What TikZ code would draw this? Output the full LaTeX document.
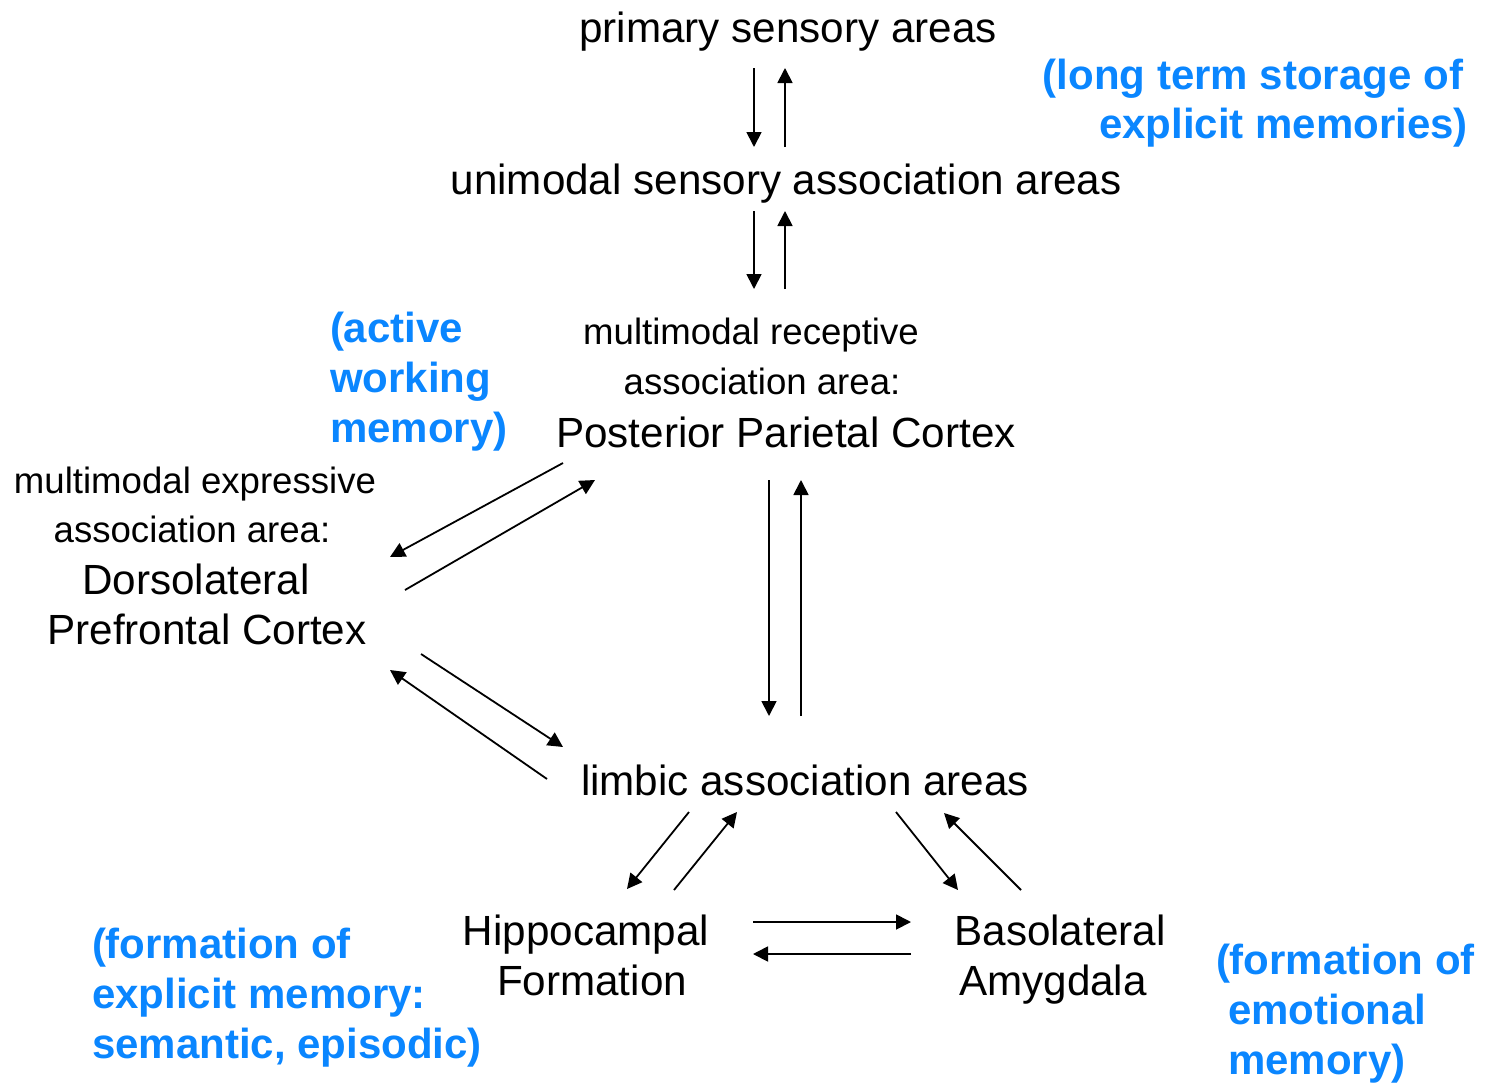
\documentclass[tikz,border=0pt]{standalone}
\usepackage{fontspec}
\setmainfont{Liberation Sans}
\usetikzlibrary{arrows.meta}
\definecolor{ink}{HTML}{000000}
\definecolor{memblue}{HTML}{0A86FF}

\begin{document}
\begin{tikzpicture}[x=0.5pt,y=-0.5pt,
  every node/.style={inner sep=0pt,outer sep=0pt,anchor=base,color=ink},
  big/.style={font=\fontsize{21.1}{25}\selectfont},
  small/.style={font=\fontsize{18.3}{25}\selectfont},
  memo/.style={font=\fontsize{21}{25}\selectfont\bfseries,color=memblue},
  arr/.style={-{Triangle[length=7.5pt,width=7.5pt]},line width=0.9pt,color=ink}]
\fill[white] (0,0) rectangle (1489,1082);
\useasboundingbox (0,0) rectangle (1489,1082);

% areas
\node[big] (prim) at (788,42) {primary sensory areas};
\node[big] (uni) at (786,194) {unimodal sensory association areas};
\node[small] (recA) at (751,344) {multimodal receptive};
\node[small] (recB) at (762,394) {association area:};
\node[big] (ppc) at (786,447) {Posterior Parietal Cortex};
\node[small] (expA) at (195,493) {multimodal expressive};
\node[small] (expB) at (192,542) {association area:};
\node[big] (dlA) at (196,594) {Dorsolateral};
\node[big] (dlB) at (207,644) {Prefrontal Cortex};
\node[big] (limb) at (805,795) {limbic association areas};
\node[big] (hipA) at (586,945) {Hippocampal};
\node[big] (hipB) at (592,995) {Formation};
\node[big] (basA) at (1060,945) {Basolateral};
\node[big] (basB) at (1053,995) {Amygdala};

% memory notes
\node[memo,anchor=base east] (storeA) at (1463,89) {(long term storage of};
\node[memo,anchor=base east] (storeB) at (1468,138) {explicit memories)};
\foreach \i/\txt in {0/(active,1/working,2/memory)}
  \node[memo,anchor=base west] (act\i) at (330,342+\i*50) {\txt};
\foreach \i/\txt in {0/(formation of,1/explicit memory:,2/{semantic, episodic)}}
  \node[memo,anchor=base west] (expl\i) at (92,958+\i*50) {\txt};
\node[memo,anchor=base west] (emo0) at (1216,974) {(formation of};
\node[memo,anchor=base west] (emo1) at (1228,1024) {emotional};
\node[memo,anchor=base west] (emo2) at (1228,1074) {memory)};

% connections
\draw[arr] ([shift={(-34,26)}]prim.base) -- ([shift={(-32,-47)}]uni.base);
\draw[arr] ([shift={(-1,-47)}]uni.base) -- ([shift={(-3,26)}]prim.base);
\draw[arr] ([shift={(-32,17)}]uni.base) -- ([shift={(3,-55)}]recA.base);
\draw[arr] ([shift={(34,-55)}]recA.base) -- ([shift={(-1,17)}]uni.base);
\draw[arr] ([shift={(-223,16)}]ppc.base) -- ([shift={(194,-37)}]dlA.base);
\draw[arr] ([shift={(209,-4)}]dlA.base) -- ([shift={(-191,33)}]ppc.base);
\draw[arr] ([shift={(-17,33)}]ppc.base) -- ([shift={(-36,-79)}]limb.base);
\draw[arr] ([shift={(-4,-79)}]limb.base) -- ([shift={(15,33)}]ppc.base);
\draw[arr] ([shift={(214,10)}]dlB.base) -- ([shift={(-242,-48)}]limb.base);
\draw[arr] ([shift={(-258,-16)}]limb.base) -- ([shift={(183,26)}]dlB.base);
\draw[arr] ([shift={(-116,17)}]limb.base) -- ([shift={(41,-56)}]hipA.base);
\draw[arr] ([shift={(88,-55)}]hipA.base) -- ([shift={(-68,17)}]limb.base);
\draw[arr] ([shift={(91,17)}]limb.base) -- ([shift={(-102,-55)}]basA.base);
\draw[arr] ([shift={(-39,-55)}]basA.base) -- ([shift={(139,18)}]limb.base);
\draw[arr] ([shift={(167,-23)}]hipA.base) -- ([shift={(-149,-23)}]basA.base);
\draw[arr] ([shift={(-149,9)}]basA.base) -- ([shift={(167,9)}]hipA.base);
\end{tikzpicture}
\end{document}
